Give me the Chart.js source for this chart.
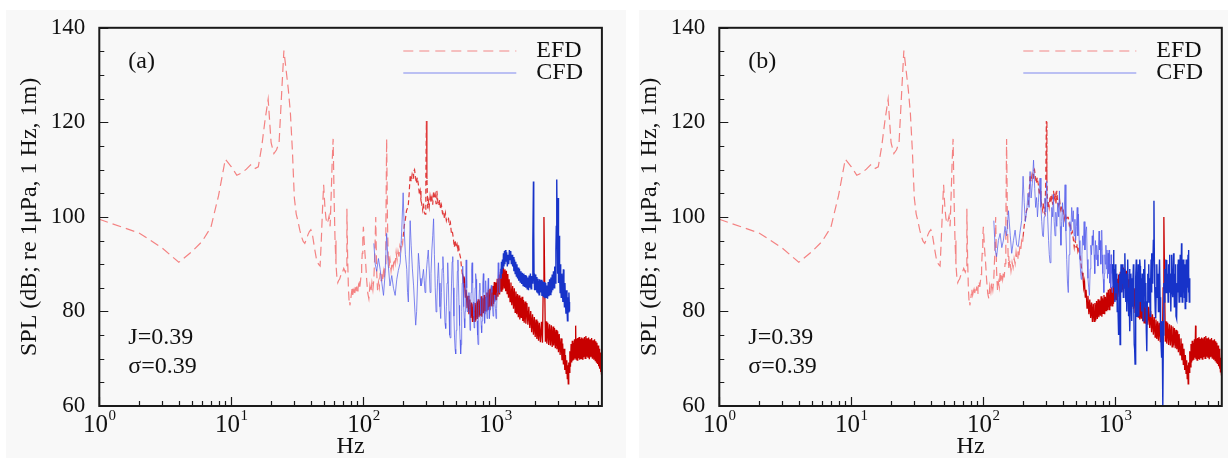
<!DOCTYPE html>
<html>
<head>
<meta charset="utf-8">
<script src="https://cdn.jsdelivr.net/npm/chart.js@4.4.1/dist/chart.umd.min.js"></script>
<style>
  html, body { margin: 0; padding: 0; background: #fff; }
  body { width: 1228px; height: 460px; position: relative; overflow: hidden; }
  .panel { position: absolute; background: #f8f8f8; }
  .box { position: absolute; top: 0; width: 614px; height: 460px; }
</style>
</head>
<body>
<div class="panel" style="left:6px; top:10px; width:620px; height:448px;"></div>
<div class="panel" style="left:639px; top:10px; width:589px; height:448px;"></div>
<div class="box" style="left:0"><canvas id="chartA"></canvas></div>
<div class="box" style="left:614px"><canvas id="chartB"></canvas></div>
<script>
// measured spectrum (EFD), same in both panels
const efdHz = [
  1, 2, 3, 4, 5, 6, 7, 8, 9, 10,
  11, 12, 13, 14, 15, 16, 17, 18, 19, 20,
  21, 22, 23, 24, 25, 26, 27, 28, 29, 30,
  31, 32, 33, 34, 35, 36, 37, 38, 39, 40,
  41, 42, 43, 44, 45, 46, 47, 48, 49, 50,
  51, 52, 53, 54, 55, 56, 57, 58, 59, 60,
  61, 62, 63, 64, 65, 66, 67, 68, 69, 70,
  71, 72, 73, 74, 75, 76, 77, 78, 79, 80,
  81, 82, 83, 84, 85, 86, 87, 88, 89, 90,
  91, 92, 93, 94, 95, 96, 97, 98, 99, 100,
  102, 104, 106, 108, 110, 112, 114, 116, 118, 120,
  122, 124, 126, 128, 130, 132, 134, 136, 138, 140,
  142, 144, 146, 148, 150, 152, 154, 156, 159, 162,
  165, 168, 171, 174, 177, 180, 183, 186, 189, 192,
  195, 198, 200, 204, 208, 212, 216, 219, 222, 226,
  230, 234, 238, 240, 244, 248, 252, 256, 261, 265,
  269, 273, 277, 281, 285, 289, 293, 297, 300, 303,
  307, 311, 315, 320, 325, 330, 335, 340, 345, 350,
  355, 360, 366, 372, 378, 384, 390, 397, 404, 411,
  418, 425, 432, 440, 448, 456, 464, 472, 480, 488,
  496, 504, 512, 520, 528, 536, 544, 552, 560, 568,
  576, 584, 592, 600, 610, 620, 630, 640, 650, 660,
  670, 680, 690, 700, 710, 720, 730, 740, 750, 760,
  770, 780, 790, 800, 810, 820, 830, 840, 850, 861,
  872, 884, 896, 908, 920, 932, 944, 956, 968, 980,
  992, 1005, 1018, 1031, 1045, 1060, 1075, 1090, 1105, 1120,
  1135, 1150, 1165, 1180, 1195, 1210, 1225, 1240, 1255, 1270,
  1290, 1310, 1330, 1350, 1370, 1390, 1410, 1430, 1450, 1470,
  1490, 1510, 1530, 1550, 1570, 1590, 1610, 1630, 1650, 1675,
  1700, 1730, 1760, 1790, 1820, 1850, 1880, 1910, 1940, 1970,
  2000, 2030, 2060, 2090, 2120, 2150, 2190, 2230, 2270, 2300,
  2330, 2360, 2390, 2420, 2450, 2490, 2530, 2570, 2610, 2650,
  2690, 2730, 2760, 2800, 2840, 2880, 2920, 2960, 3000, 3040,
  3090, 3140, 3190, 3230, 3270, 3310, 3350, 3390, 3430, 3470,
  3500, 3530, 3560, 3590, 3620, 3660, 3700, 3740, 3780, 3820,
  3860, 3890, 3930, 3970, 4010, 4050, 4080, 4120, 4160, 4200,
  4250, 4300, 4350, 4400, 4450, 4500, 4550, 4600, 4660, 4720,
  4780, 4840, 4900, 4960, 5020, 5080, 5140, 5210, 5280, 5350,
  5420, 5490, 5560, 5630, 5700, 5760, 5820, 5870, 5930, 5990,
  6050, 6100, 6150, 6200, 6250, 6300, 6350, 6400
];
const efdDb = [
  99.5, 96.6, 93.4, 90.4, 92.6, 94.8, 97.8, 104.5, 112.2, 110.6,
  108.8, 109.3, 110.1, 111, 110.2, 110.6, 115, 120.5, 124.9, 115.7,
  113.4, 114.2, 115.8, 125.8, 135.2, 131, 127, 122, 114, 104,
  100.6, 99, 97.2, 95.8, 94.8, 94.4, 95.2, 96.2, 96.9, 97.3,
  96.5, 94.6, 92.8, 91.2, 90.3, 89.9, 89.6, 95, 101.5, 106.8,
  102.5, 99.8, 98.6, 99.2, 100.2, 98, 104.5, 111.5, 116.5, 104,
  95, 90, 87.2, 86.1, 86.6, 86.8, 87.4, 87.9, 88.2, 88.6,
  89.1, 88.7, 88.3, 88.9, 101.7, 91, 85, 82, 81.3, 82.2,
  83.6, 84.8, 83.5, 84.2, 84.7, 83.9, 84.6, 85.3, 84.4, 83.8,
  84.9, 85.6, 86.4, 85.2, 86.3, 87.8, 89.6, 92.3, 95.5, 97.9,
  93.5, 90.3, 86.5, 83.8, 82.7, 85.4, 84.1, 86.1, 84.6, 86.9,
  92, 100, 88.5, 84.5, 86.2, 85.1, 88.2, 86.5, 87.9, 86.8,
  88.5, 87.2, 90.1, 98, 116.5, 100, 91.7, 89.2, 90.9, 88.6,
  90.4, 89.3, 91.2, 90.1, 92.5, 90.9, 92.7, 91.6, 93.8, 93,
  94.9, 94.2, 95.8, 98.2, 99.5, 101.3, 101.9, 102.7, 104.8, 108.9,
  107.5, 109, 108.2, 109.6, 110, 108.4, 107.1, 108.3, 106.8, 104.9,
  105.6, 103.4, 102.7, 101.5, 102.9, 100.9, 100.6, 108, 120.3, 108,
  101.8, 103.3, 102.1, 104.4, 103.2, 104.1, 102.6, 105.5, 103.9, 104.7,
  102.8, 105.5, 103.2, 102.4, 103.6, 101.6, 102.5, 100.8, 101.3, 99.6,
  100.8, 99.2, 99.9, 99.9, 98.2, 98.8, 96.5, 96.9, 95.4, 93.6,
  95.1, 93.6, 94.2, 92.7, 93.5, 92.2, 91.4, 89.6, 88.2, 87.4,
  85.1, 86.2, 82.9, 84.6, 80.7, 83.3, 79.4, 82.5, 78.6, 81.9,
  77.8, 81.6, 77.9, 81.8, 78.1, 82.2, 78.4, 82.6, 78.8, 82.3,
  79.1, 83.2, 78.9, 82.8, 79.6, 83.5, 79.4, 83.1, 80.2, 84,
  80.3, 84.6, 80.4, 84.8, 81.1, 85.1, 81.2, 85.4, 81.6, 86.2,
  82.3, 86.1, 82.4, 86.9, 83.1, 87.8, 83.6, 88.4, 84.3, 89.1,
  84.6, 89.3, 85, 88.9, 84.3, 88.6, 83.8, 87.9, 82.9, 86.8,
  82.1, 86.1, 81.3, 85.4, 80.6, 84.9, 79.8, 84.2, 79.4, 83.7,
  78.8, 83.4, 78.3, 82.9, 78.6, 83.1, 78, 82.4, 77.6, 82.1,
  77.4, 81.8, 77.2, 81, 76.5, 80.1, 75.6, 79.4, 75.1, 78.8,
  74.6, 78.3, 74.2, 77.9, 73.8, 77.6, 73.5, 77.8, 73.4, 85,
  100, 86, 73.6, 77.9, 73.2, 77.6, 72.9, 77.3, 72.8, 77.1,
  72.5, 76.8, 72.8, 76.5, 72.2, 76.1, 72, 75.8, 71.4, 75.2,
  70.8, 74.3, 69.7, 73.2, 68.8, 72.1, 67.6, 70.8, 66.9, 69.7,
  65.8, 68.6, 64.7, 69.2, 67.1, 71.6, 68.3, 73.1, 69.2, 73.8,
  69.6, 73.4, 69.8, 74.1, 70.2, 77, 69.9, 74.2, 69.7, 74.4,
  70.1, 74.6, 69.8, 74.2, 70.1, 74.5, 69.9, 74.3, 70.3, 74.6,
  70.1, 74.8, 70.4, 74.3, 70.2, 74.5, 69.9, 74.1, 70.3, 74.4,
  70, 73.9, 69.8, 74.1, 69.6, 73.7, 69.3, 73.4, 68.9, 72.8,
  68.4, 72.1, 67.9, 71.3, 67.2, 70.2, 66.8, 66
];

// computed spectrum, panel (a)
const cfdAHz = [
  120, 123, 126, 130, 134, 138, 142, 146, 150, 154,
  159, 164, 169, 174, 179, 184, 190, 195, 200, 204,
  208, 213, 216, 219, 222, 226, 230, 235, 240, 245,
  249, 253, 257, 261, 265, 269, 273, 277, 281, 285,
  289, 293, 297, 301, 305, 310, 315, 320, 325, 330,
  335, 340, 345, 350, 355, 360, 365, 370, 375, 380,
  385, 390, 395, 400, 405, 410, 415, 420, 425, 430,
  435, 440, 445, 450, 455, 460, 465, 470, 475, 480,
  485, 490, 495, 500, 505, 510, 515, 520, 525, 530,
  535, 540, 545, 550, 555, 560, 565, 570, 575, 580,
  585, 590, 595, 600, 606, 612, 618, 624, 630, 636,
  642, 648, 654, 660, 666, 672, 678, 684, 690, 696,
  702, 708, 714, 720, 726, 732, 738, 744, 750, 756,
  762, 768, 774, 780, 786, 792, 798, 804, 810, 816,
  822, 828, 834, 840, 846, 852, 858, 864, 870, 876,
  882, 888, 894, 900, 910, 920, 930, 940, 950, 960,
  970, 980, 990, 1000, 1010, 1020, 1030, 1040, 1050, 1060,
  1070, 1080, 1090, 1100, 1110, 1120, 1130, 1140, 1150, 1160,
  1170, 1180, 1190, 1200, 1215, 1230, 1245, 1260, 1275, 1290,
  1305, 1320, 1335, 1350, 1365, 1380, 1395, 1410, 1425, 1440,
  1455, 1470, 1485, 1500, 1520, 1540, 1560, 1580, 1600, 1620,
  1640, 1660, 1680, 1700, 1720, 1740, 1760, 1780, 1800, 1820,
  1840, 1860, 1880, 1900, 1920, 1940, 1950, 1960, 1980, 2000,
  2020, 2040, 2060, 2080, 2100, 2120, 2140, 2160, 2190, 2220,
  2250, 2280, 2310, 2340, 2370, 2400, 2430, 2450, 2480, 2510,
  2540, 2570, 2600, 2630, 2660, 2690, 2720, 2750, 2780, 2810,
  2840, 2870, 2890, 2905, 2920, 2935, 2950, 2965, 2980, 2995,
  3010, 3030, 3050, 3070, 3090, 3110, 3130, 3150, 3180, 3210,
  3240, 3270, 3300, 3330, 3360, 3390, 3420, 3450, 3480, 3510,
  3540, 3570, 3600, 3620, 3640
];
const cfdADb = [
  94.4, 90, 88.5, 91.2, 88.9, 86, 83.4, 88, 96.5, 90,
  85.4, 87.6, 84.9, 83.4, 86.8, 88.7, 90.3, 97, 105.1, 97,
  92, 88.9, 84, 82, 90, 99.2, 94, 89, 85.4, 80.5,
  77.1, 80, 86, 92.3, 90, 87, 85.4, 86, 87.5, 88.9,
  86.5, 84, 86, 89, 91, 93, 89, 84, 88, 93,
  96, 99.6, 92, 85, 79.9, 82, 87, 90.3, 86, 81,
  78.5, 84, 89, 91.6, 88, 82, 77.5, 76.4, 81, 86,
  90.3, 86, 80, 75, 74.4, 80, 86, 90.5, 91.6, 85,
  79, 74.4, 72, 71, 76, 83, 88.5, 90.9, 86, 81.3,
  77, 74, 71, 73, 80, 86, 89.6, 86, 81, 78.5,
  76.5, 80, 86, 90.9, 85, 80, 79.9, 83, 84, 80.6,
  76, 79, 84, 89, 90.3, 86, 82, 79, 76.5, 80,
  85, 88, 86.8, 82, 78, 75, 73, 77, 81, 84.5,
  86, 83, 79.5, 77, 75.5, 78, 82.5, 86, 88, 84,
  80, 77.5, 80, 84, 86.5, 83, 80, 78.5, 81, 84.5,
  87, 84.6, 81, 78.5, 80.5, 83.5, 85.5, 84, 81, 79,
  80.5, 83.5, 82, 80.6, 78.5, 80.6, 84, 87, 90.3, 87,
  84, 86.8, 89, 87, 90.5, 88, 91, 89, 92.3, 89.5,
  92.8, 90, 93, 90.5, 92.5, 89.5, 92, 90, 93, 91,
  92.8, 90, 92, 89.5, 91.5, 88.5, 91, 88, 90.5, 87.5,
  90, 87, 89.3, 86.5, 89, 86.2, 88.5, 85.8, 88.2, 85.5,
  88, 85.2, 87.7, 85, 87.5, 84.8, 87.2, 84.5, 87.6, 85,
  88, 84.8, 87.5, 86, 95, 107.5, 97, 88, 84.5, 87.8,
  84.5, 87.3, 84, 86.9, 83.8, 86.5, 83.5, 86.8, 84, 86.7,
  83.3, 86.4, 83, 86.2, 82.8, 86, 83, 85.5, 82.7, 86.2,
  83.2, 86.8, 83.6, 87.2, 84, 87.8, 84.5, 88.5, 85, 89.5,
  86, 93, 98, 104, 107.9, 96, 88, 98, 104, 92,
  86, 91, 96, 88, 84, 90, 86, 83, 88, 85,
  82, 88.9, 84, 81, 86, 82, 79.5, 84.5, 81, 78,
  83, 79.9, 84, 82, 80
];

// computed spectrum, panel (b)
const cfdBHz = [
  120, 123, 126, 130, 134, 138, 142, 146, 150, 155,
  160, 164, 169, 174, 179, 184, 189, 195, 200, 204,
  208, 213, 218, 222, 226, 230, 235, 240, 245, 249,
  253, 257, 261, 265, 269, 273, 277, 281, 285, 289,
  293, 297, 302, 307, 312, 316, 320, 325, 330, 335,
  339, 344, 349, 354, 360, 366, 372, 377, 382, 387,
  392, 398, 404, 410, 416, 422, 428, 434, 440, 446,
  452, 460, 467, 474, 480, 487, 494, 500, 507, 514,
  520, 525, 532, 539, 546, 552, 558, 565, 572, 580,
  588, 596, 605, 612, 620, 628, 636, 645, 652, 660,
  668, 674, 681, 690, 698, 706, 714, 722, 730, 738,
  745, 752, 760, 768, 776, 782, 788, 796, 804, 810,
  818, 826, 833, 840, 848, 856, 864, 872, 880, 888,
  896, 904, 912, 920, 928, 936, 944, 952, 960, 968,
  976, 984, 992, 1000, 1008, 1016, 1025, 1033, 1041, 1050,
  1058, 1066, 1075, 1086, 1095, 1104, 1112, 1120, 1130, 1140,
  1150, 1160, 1170, 1180, 1190, 1200, 1210, 1220, 1230, 1240,
  1250, 1260, 1270, 1280, 1290, 1300, 1310, 1320, 1330, 1340,
  1350, 1360, 1370, 1380, 1390, 1400, 1410, 1420, 1430, 1440,
  1450, 1460, 1470, 1480, 1490, 1500, 1510, 1520, 1530, 1540,
  1550, 1565, 1580, 1595, 1610, 1625, 1640, 1655, 1670, 1685,
  1700, 1715, 1730, 1745, 1760, 1775, 1790, 1805, 1820, 1835,
  1850, 1865, 1880, 1890, 1905, 1920, 1940, 1960, 1975, 1990,
  2005, 2020, 2040, 2060, 2080, 2100, 2120, 2140, 2160, 2180,
  2200, 2220, 2240, 2260, 2280, 2295, 2310, 2330, 2350, 2370,
  2390, 2410, 2430, 2450, 2470, 2490, 2510, 2530, 2550, 2570,
  2590, 2610, 2630, 2650, 2670, 2690, 2710, 2730, 2760, 2780,
  2800, 2820, 2840, 2860, 2880, 2900, 2920, 2940, 2960, 2980,
  3000, 3020, 3040, 3060, 3080, 3100, 3120, 3140, 3170, 3190,
  3210, 3230, 3250, 3270, 3290, 3310, 3330, 3350, 3380, 3400,
  3420, 3440, 3460, 3480, 3500, 3520, 3550, 3570, 3590, 3610,
  3630, 3650, 3670
];
const cfdBDb = [
  99.2, 93, 91.6, 95, 96.5, 93.5, 95.1, 98, 96, 101.3,
  96, 92.3, 95, 97.2, 94, 93.7, 96.5, 99.2, 108.6, 103,
  99, 101.3, 105, 102, 109.6, 104, 107, 112, 106, 102,
  104.1, 100, 103, 106, 108.2, 102, 99, 96, 95.8, 100,
  104, 101, 107.5, 100, 95, 92, 90.3, 96, 102, 100,
  104.8, 99, 96, 101, 98, 103, 100, 105.5, 98, 94,
  99, 103, 97.9, 101, 106.8, 97, 91, 86, 84, 92,
  99, 97, 102, 99, 101.3, 96, 99.5, 95, 98, 102,
  96, 100.6, 95, 91, 88, 86.8, 92, 96, 94, 99,
  93, 97, 97.9, 91, 87, 85, 83.4, 89, 94, 92,
  96, 94, 97.2, 92, 88, 95, 91, 94, 92, 89.6,
  94, 97, 93, 95, 90, 93, 97.2, 92, 88, 86.8,
  84, 88, 92, 90, 94, 89, 93, 87, 92.3, 88,
  93, 86, 90, 85, 92, 88, 84, 90, 87, 93,
  85, 89, 82, 90, 86, 84, 88, 80, 86, 79,
  75, 80, 88, 73, 85, 90, 84, 88, 86, 90,
  83, 89, 85, 92.3, 86, 82, 88, 80, 86, 91,
  85, 79, 84, 89, 75.8, 82, 88, 85, 78, 87,
  81, 86, 90, 80, 73, 72, 68.9, 80, 87, 91,
  84, 79, 88, 83, 90, 86, 79, 86, 91, 89.6,
  82, 87, 80, 88, 84, 78, 89, 85, 91, 81,
  86, 76, 71.6, 82, 88, 84, 90, 82, 87, 79,
  86, 91, 84, 92.3, 86, 89, 95, 103.4, 90, 84,
  80, 78.5, 85, 90, 83, 88, 80, 86, 91, 83,
  76, 73, 70.2, 78, 62, 60, 75, 86, 82, 89,
  84, 91, 86, 90.9, 84, 88, 82, 90, 85, 92,
  84, 88, 80, 86, 92, 85, 89, 83, 92.3, 86,
  81, 88, 84, 90, 79, 83, 78.5, 86, 90, 84,
  91, 86, 82, 89, 85, 92, 87, 83, 94.4, 86,
  82, 89, 85, 91, 84, 88, 83, 90, 80.6, 87,
  84, 91, 86, 82, 89, 85, 92, 93, 84, 88,
  82, 87, 83
];

const yTickStep = 20;
const xDecades = [1, 10, 100, 1000];
const xMax = 6400;

const serif = "'Liberation Serif', 'Times New Roman', serif";
const ink = '#111';

function pts(hz, db) {
  return hz.map((f, i) => ({ x: f, y: db[i] }));
}

// ticks pointing inward, frame, superscript decade labels, notes and legend
const decor = {
  id: 'decor',
  afterDraw(chart, args, o) {
    const { ctx, chartArea: a, scales: { x, y } } = chart;
    ctx.save();
    ctx.strokeStyle = '#1a1a1a';
    ctx.lineWidth = 1.2;
    ctx.beginPath();
    for (let d = 1; d < xMax; d *= 10) {
      for (let k = 1; k < 10; k++) {
        const v = d * k;
        if (v > xMax) break;
        const px = Math.round(x.getPixelForValue(v)) + 0.5;
        ctx.moveTo(px, a.bottom);
        ctx.lineTo(px, a.bottom - (k === 1 ? 9 : 5));
      }
    }
    for (let v = y.min; v <= y.max; v += 5) {
      const py = Math.round(y.getPixelForValue(v)) + 0.5;
      ctx.moveTo(a.left, py);
      ctx.lineTo(a.left + (v % 20 === 0 ? 9 : 5), py);
    }
    ctx.stroke();
    ctx.lineWidth = 2;
    ctx.strokeRect(a.left, a.top, a.right - a.left, a.bottom - a.top);

    ctx.fillStyle = ink;
    ctx.textAlign = 'left';
    ctx.textBaseline = 'alphabetic';
    xDecades.forEach(v => {
      const exp = String(Math.round(Math.log10(v)));
      const px = x.getPixelForValue(v);
      ctx.font = '25px ' + serif;
      const w1 = ctx.measureText('10').width;
      ctx.font = '15px ' + serif;
      const w2 = ctx.measureText(exp).width;
      const x0 = px - (w1 + w2) / 2;
      ctx.font = '25px ' + serif;
      ctx.fillText('10', x0, a.bottom + 25.5);
      ctx.font = '15px ' + serif;
      ctx.fillText(exp, x0 + w1 + 0.5, a.bottom + 14);
    });

    ctx.font = '24px ' + serif;
    ctx.textBaseline = 'middle';
    ctx.fillText(o.tag, a.left + 29, 62);
    ctx.fillText('J=0.39', a.left + 29, 338);
    ctx.fillText('\u03c3=0.39', a.left + 29, 367);

    // legend
    const lx0 = a.left + 304, lx1 = a.left + 417;
    ctx.lineWidth = 1.2;
    ctx.setLineDash([10, 6]);
    ctx.strokeStyle = '#f28686';
    ctx.beginPath(); ctx.moveTo(lx0, 51); ctx.lineTo(lx1, 51); ctx.stroke();
    ctx.setLineDash([]);
    ctx.strokeStyle = '#7f88ee';
    ctx.beginPath(); ctx.moveTo(lx0, 73); ctx.lineTo(lx1, 73); ctx.stroke();
    ctx.fillText('EFD', a.left + 437, 51);
    ctx.fillText('CFD', a.left + 437, 73);
    ctx.restore();
  }
};

function makeChart(id, tag, cfdHz, cfdDb, darkFrom, axisLeft, padRight, titlePad) {
  const ctx = document.getElementById(id).getContext('2d');
  return new Chart(ctx, {
    type: 'line',
    data: {
      datasets: [
        {
          label: 'CFD',
          data: pts(cfdHz, cfdDb),
          borderWidth: 1,
          borderColor: '#1733c9',
          segment: {
            borderColor: c => c.p0.parsed.x >= darkFrom ? '#1733c9' : 'rgba(85,95,235,0.75)',
            borderWidth: c => c.p0.parsed.x >= darkFrom ? 1.4 : 1
          }
        },
        {
          label: 'EFD',
          data: pts(efdHz, efdDb),
          borderWidth: 1.2,
          borderColor: '#c80000',
          segment: {
            borderColor: c => c.p0.parsed.x >= 560 ? '#c80000' : (c.p0.parsed.x >= 200 ? '#e03a3a' : '#f48282'),
            borderDash: c => c.p0.parsed.x >= 560 ? [] : (c.p0.parsed.x >= 200 ? [5, 3] : [9, 5]),
            borderWidth: c => c.p0.parsed.x >= 560 ? 1.3 : 1.2
          }
        }
      ]
    },
    options: {
      responsive: true,
      maintainAspectRatio: false,
      animation: false,
      layout: { padding: { left: 0, right: padRight, top: 20, bottom: 0 } },
      elements: { point: { radius: 0 }, line: { tension: 0 } },
      plugins: {
        legend: { display: false },
        tooltip: { enabled: false },
        decor: { tag: tag }
      },
      scales: {
        x: {
          type: 'logarithmic',
          min: 1,
          max: xMax,
          grid: { display: false, drawTicks: false },
          border: { display: false },
          ticks: { display: false },
          title: {
            display: true,
            text: 'Hz',
            color: ink,
            font: { family: serif, size: 24, lineHeight: 1 },
            padding: { top: 0, bottom: 1 }
          },
          afterFit: s => { s.height = 54; }
        },
        y: {
          min: 60,
          max: 140,
          grid: { display: false, drawTicks: false },
          border: { display: false },
          ticks: {
            stepSize: yTickStep,
            padding: 14,
            color: ink,
            font: { family: serif, size: 23 }
          },
          title: {
            display: true,
            text: 'SPL (dB; re 1\u03bcPa, 1 Hz, 1m)',
            color: ink,
            font: { family: serif, size: 24, lineHeight: 1 },
            padding: { top: titlePad, bottom: 0 }
          },
          afterFit: s => { s.width = axisLeft; }
        }
      }
    },
    plugins: [decor]
  });
}

makeChart('chartA', '(a)', cfdAHz, cfdADb, 1100, 99.3, 12.1, 18);
makeChart('chartB', '(b)', cfdBHz, cfdBDb, 950, 105.3, 6.2, 23.5);
</script>
</body>
</html>
